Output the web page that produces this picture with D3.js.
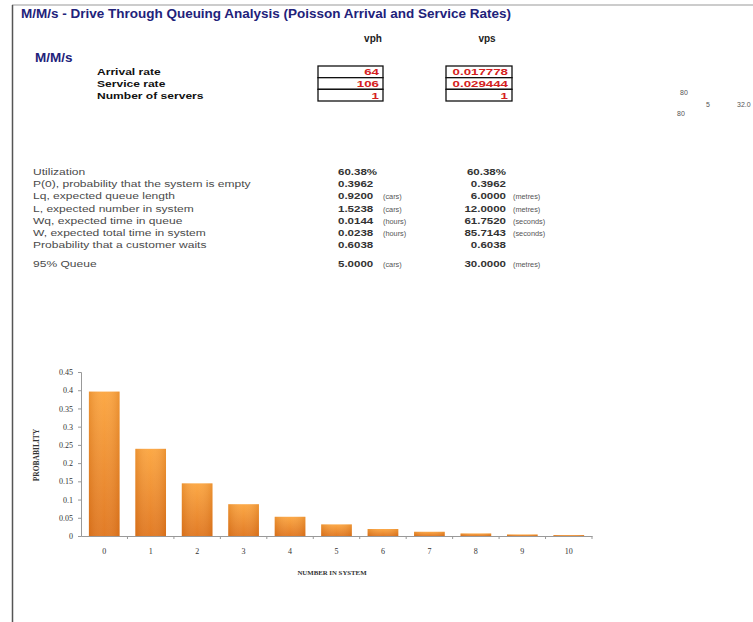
<!DOCTYPE html>
<html>
<head>
<meta charset="utf-8">
<script src="https://cdn.jsdelivr.net/npm/d3@7"></script>
<style>
  html, body { margin: 0; padding: 0; background: #fff; }
  svg { display: block; font-family: "Liberation Sans", Arial, sans-serif; }
</style>
</head>
<body>
<svg id="sheet" width="753" height="622"></svg>
<script>
// Input parameters of the M/M/s drive-through model
const inputLabels = ["Arrival rate", "Service rate", "Number of servers"];
const vphValues = ["64", "106", "1"];
const vpsValues = ["0.017778", "0.029444", "1"];

// Results table
const statLabels = [
  "Utilization",
  "P(0), probability that the system is empty",
  "Lq, expected queue length",
  "L, expected number in system",
  "Wq, expected time in queue",
  "W, expected total time in system",
  "Probability that a customer waits",
  "95% Queue"
];
const statValues1 = ["60.38%", "0.3962", "0.9200", "1.5238", "0.0144", "0.0238", "0.6038", "5.0000"];
const statUnits1 = ["", "", "(cars)", "(cars)", "(hours)", "(hours)", "", "(cars)"];
const statValues2 = ["60.38%", "0.3962", "6.0000", "12.0000", "61.7520", "85.7143", "0.6038", "30.0000"];
const statUnits2 = ["", "", "(metres)", "(metres)", "(seconds)", "(seconds)", "", "(metres)"];

// Probability distribution of the number in system
const categories = ["0", "1", "2", "3", "4", "5", "6", "7", "8", "9", "10"];
const probabilities = [0.3962, 0.2392, 0.1444, 0.0872, 0.0527, 0.0318, 0.0192, 0.0116, 0.0070, 0.0042, 0.0026];
const yTicks = [0, 0.05, 0.1, 0.15, 0.2, 0.25, 0.3, 0.35, 0.4, 0.45];

const svg = d3.select("#sheet");
const navy = "#22227a";

// place a text at (x, y) with a horizontal stretch, like a widened spreadsheet font
function placeText(sel, fx, fy, sx) {
  sel.attr("transform", (d, i) => `translate(${fx(d, i)},${fy(d, i)}) scale(${sx},1)`);
  return sel;
}

// sheet frame
svg.append("line").attr("x1", 12).attr("y1", 5).attr("x2", 753).attr("y2", 5)
  .attr("stroke", "#9a9a9a").attr("stroke-width", 1.2);
svg.append("line").attr("x1", 12.5).attr("y1", 5).attr("x2", 12.5).attr("y2", 622)
  .attr("stroke", "#555").attr("stroke-width", 1.5);

// headings
svg.append("text").attr("transform", "translate(21,18) scale(1.08,1)").attr("fill", navy)
  .attr("font-size", 12.5).attr("font-weight", "bold")
  .text("M/M/s - Drive Through Queuing Analysis (Poisson Arrival and Service Rates)");
svg.append("text").attr("transform", "translate(35,62) scale(1.08,1)").attr("fill", navy)
  .attr("font-size", 12.5).attr("font-weight", "bold").text("M/M/s");
svg.append("text").attr("x", 373).attr("y", 42).attr("text-anchor", "middle")
  .attr("font-size", 10).attr("font-weight", "bold").attr("fill", "#222").text("vph");
svg.append("text").attr("x", 487).attr("y", 42).attr("text-anchor", "middle")
  .attr("font-size", 10).attr("font-weight", "bold").attr("fill", "#222").text("vps");

// input rows
const rowY = d3.scaleBand().domain(d3.range(inputLabels.length)).range([66, 101]);
placeText(svg.append("g").selectAll("text").data(inputLabels).join("text"),
  () => 97, (d, i) => rowY(i) + rowY.bandwidth() / 2 + 3.5, 1.27)
  .attr("font-size", 9.5).attr("font-weight", "bold").attr("fill", "#111").text(d => d);

function inputBox(values, x0, x1) {
  const g = svg.append("g");
  g.selectAll("rect").data(values).join("rect")
    .attr("x", x0).attr("y", (d, i) => rowY(i))
    .attr("width", x1 - x0).attr("height", rowY.bandwidth())
    .attr("fill", "#fff").attr("stroke", "#111").attr("stroke-width", 1.3);
  placeText(g.selectAll("text").data(values).join("text"),
    () => x1 - 4, (d, i) => rowY(i) + rowY.bandwidth() / 2 + 3.5, 1.4)
    .attr("text-anchor", "end").attr("font-size", 9.5).attr("font-weight", "bold")
    .attr("fill", "#d42020").text(d => d);
}
inputBox(vphValues, 318, 383);
inputBox(vpsValues, 446, 512);

// stray cells at the right edge of the sheet
const strayCells = [
  { t: "80", x: 680, y: 95 },
  { t: "5", x: 706, y: 107 },
  { t: "32.0", x: 737, y: 107 },
  { t: "80", x: 677, y: 116 }
];
svg.append("g").selectAll("text").data(strayCells).join("text")
  .attr("x", d => d.x).attr("y", d => d.y).attr("font-size", 7)
  .attr("fill", "#555").text(d => d.t);

// results
const statY = i => (i < 7 ? 175 + i * 12.2 : 175 + 6 * 12.2 + 19);
const res = svg.append("g");
placeText(res.selectAll("text.lbl").data(statLabels).join("text").attr("class", "lbl"),
  () => 33, (d, i) => statY(i), 1.31)
  .attr("font-size", 9.2).attr("fill", "#4a4a4a").text(d => d);
placeText(res.selectAll("text.v1").data(statValues1).join("text").attr("class", "v1"),
  () => 338, (d, i) => statY(i), 1.2)
  .attr("font-size", 9.6).attr("font-weight", "bold").attr("fill", "#333").text(d => d);
placeText(res.selectAll("text.u1").data(statUnits1).join("text").attr("class", "u1"),
  () => 383, (d, i) => statY(i), 1.05)
  .attr("font-size", 7).attr("fill", "#555").text(d => d);
placeText(res.selectAll("text.v2").data(statValues2).join("text").attr("class", "v2"),
  () => 506, (d, i) => statY(i), 1.2)
  .attr("text-anchor", "end").attr("font-size", 9.6).attr("font-weight", "bold")
  .attr("fill", "#333").text(d => d);
placeText(res.selectAll("text.u2").data(statUnits2).join("text").attr("class", "u2"),
  () => 513, (d, i) => statY(i), 1.05)
  .attr("font-size", 7).attr("fill", "#555").text(d => d);

// bar chart
const x = d3.scaleBand().domain(categories).range([81, 592]).paddingInner(0.34).paddingOuter(0.17);
const y = d3.scaleLinear().domain([0, 0.45]).range([536, 372]);

const defs = svg.append("defs");
const grad = defs.append("linearGradient").attr("id", "barFill")
  .attr("x1", 0).attr("y1", 0).attr("x2", 0).attr("y2", 1);
grad.append("stop").attr("offset", "0%").attr("stop-color", "#fca43c");
grad.append("stop").attr("offset", "100%").attr("stop-color", "#e0741a");
const gradH = defs.append("linearGradient").attr("id", "barShade")
  .attr("x1", 0).attr("y1", 0).attr("x2", 1).attr("y2", 0);
gradH.append("stop").attr("offset", "0%").attr("stop-color", "#b85a10").attr("stop-opacity", 0.25);
gradH.append("stop").attr("offset", "50%").attr("stop-color", "#fff").attr("stop-opacity", 0.05);
gradH.append("stop").attr("offset", "100%").attr("stop-color", "#b85a10").attr("stop-opacity", 0.25);

const chart = svg.append("g");
const bars = chart.selectAll("g.bar").data(probabilities).join("g").attr("class", "bar");
bars.append("rect")
  .attr("x", (d, i) => x(categories[i])).attr("y", d => y(d))
  .attr("width", x.bandwidth()).attr("height", d => y(0) - y(d))
  .attr("fill", "url(#barFill)");
bars.append("rect")
  .attr("x", (d, i) => x(categories[i])).attr("y", d => y(d))
  .attr("width", x.bandwidth()).attr("height", d => y(0) - y(d))
  .attr("fill", "url(#barShade)");

const tickFont = "'Liberation Serif', serif";
const yAxis = chart.append("g").attr("transform", "translate(81,0)")
  .call(d3.axisLeft(y).tickValues(yTicks).tickFormat(d3.format("~g")).tickSize(3).tickPadding(5));
yAxis.select(".domain").attr("stroke", "#999");
yAxis.selectAll(".tick line").attr("stroke", "#999");
yAxis.selectAll("text").attr("font-size", 8).attr("fill", "#333").attr("font-family", tickFont);

const xAxis = chart.append("g").attr("transform", `translate(0,${y(0)})`)
  .call(d3.axisBottom(x).tickSize(0).tickPadding(12));
xAxis.select(".domain").attr("stroke", "#999");
xAxis.selectAll("text").attr("font-size", 8).attr("fill", "#333").attr("font-family", tickFont);
// separators between categories
const step = x.step();
xAxis.selectAll("line.sep").data(categories).join("line").attr("class", "sep")
  .attr("x1", d => x(d) + x.bandwidth() + (step - x.bandwidth()) / 2)
  .attr("x2", d => x(d) + x.bandwidth() + (step - x.bandwidth()) / 2)
  .attr("y1", 0).attr("y2", 3).attr("stroke", "#999");

svg.append("text").attr("x", 332).attr("y", 575).attr("text-anchor", "middle")
  .attr("font-size", 6.8).attr("font-weight", "bold").attr("fill", "#333")
  .attr("font-family", tickFont).text("NUMBER IN SYSTEM");
svg.append("text").attr("transform", "translate(39,455) rotate(-90)")
  .attr("text-anchor", "middle").attr("font-size", 7.5).attr("font-weight", "bold")
  .attr("fill", "#333").attr("font-family", tickFont).text("PROBABILITY");
</script>
</body>
</html>
